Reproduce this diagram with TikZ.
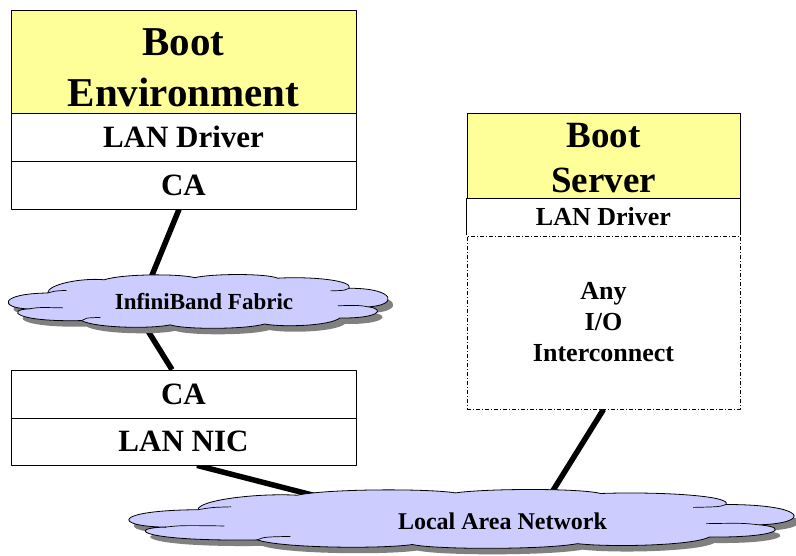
\documentclass[tikz,border=0pt]{standalone}
\usepackage{fontspec}
\setmainfont{Liberation Serif}
\definecolor{bootyellow}{HTML}{FFFF99}
\definecolor{cloudblue}{HTML}{CCCCFF}
\definecolor{shadowgray}{HTML}{808080}
\pgfdeclarelayer{bg}
\pgfsetlayers{bg,main}
\tikzset{
  cloudpath/.style={insert path={(-0.9,-0.28) .. controls (-1.06,-0.25) and (-1.06,0.3) .. (-0.8,0.32)
    .. controls (-0.8,0.65) and (-0.62,0.9) .. (-0.5,0.82)
    .. controls (-0.4,1.05) and (-0.1,1.05) .. (-0.02,0.9)
    .. controls (0.08,1.06) and (0.36,1.06) .. (0.42,0.88)
    .. controls (0.6,0.95) and (0.82,0.8) .. (0.8,0.5)
    .. controls (1.05,0.5) and (1.06,-0.15) .. (0.9,-0.2)
    .. controls (1.0,-0.3) and (0.95,-0.65) .. (0.75,-0.62)
    .. controls (0.7,-0.92) and (0.45,-0.98) .. (0.35,-0.85)
    .. controls (0.25,-1.06) and (-0.08,-1.06) .. (-0.15,-0.88)
    .. controls (-0.25,-1.04) and (-0.55,-1.0) .. (-0.62,-0.72)
    .. controls (-0.98,-0.78) and (-1.02,-0.3) .. cycle}},
  cloudinner/.style={insert path={(-0.9,-0.28) .. controls (-0.85,-0.22) .. (-0.72,-0.24)
    (0.9,-0.2) .. controls (0.85,-0.14) .. (0.74,-0.16)
    (-0.62,-0.72) .. controls (-0.6,-0.62) .. (-0.52,-0.6)
    (0.8,0.5) .. controls (0.78,0.42) .. (0.7,0.4)
    (-0.8,0.32) .. controls (-0.76,0.4) .. (-0.7,0.42)}},
  box/.style={draw=black, line width=0.8pt, fill=white, minimum width=345pt,
    minimum height=48pt, inner sep=0pt, align=center,
    font=\bfseries\fontsize{31}{36}\selectfont},
  titlebox/.style={box, fill=bootyellow, font=\bfseries\fontsize{42}{50}\selectfont},
  titletext/.style={inner sep=0pt, align=center},
  dashdotline/.style={line width=0.8pt, dash pattern=on 4pt off 2pt on 1pt off 2pt},
  link/.style={line width=5.5pt},
  cloudtext/.style={inner sep=0pt}
}
\newcommand{\drawcloud}[4]{%
  \begin{scope}[shift={(#1+5,#2+6)}, xscale=#3, yscale=-#4]
    \fill[shadowgray][cloudpath];
  \end{scope}
  \begin{scope}[shift={(#1,#2)}, xscale=#3, yscale=-#4]
    \filldraw[fill=cloudblue, draw=black, line width=0.8pt][cloudpath];
    \draw[line width=0.7pt][cloudinner];
  \end{scope}}
\begin{document}
\begin{tikzpicture}[x=1pt, y=-1pt, line join=round]
\useasboundingbox (0,0) rectangle (796,556);
% left stack
\node[titlebox, minimum height=103pt] (bootenv) at (183.5,61.5) {};
\node[titletext, font=\bfseries\fontsize{41}{51}\selectfont] (bootenvtext)
  at ([yshift=-6pt]bootenv.center) {Boot\\Environment};
\node[box] (lanL) at (183.5,137) {LAN Driver};
\node[box] (caT) at (183.5,185) {CA};
\node[box] (caB) at (183.5,394) {CA};
\node[box, minimum height=47pt] (nic) at (183.5,441.5) {LAN NIC};
% right stack
\node[titlebox, minimum width=273pt, minimum height=86pt] (bootsrv) at (603.5,156) {};
\node[titletext, font=\bfseries\fontsize{37}{45}\selectfont] (bootsrvtext)
  at ([yshift=-2pt]bootsrv.center) {Boot\\Server};
\node[box, draw=none, minimum width=273pt, minimum height=36pt,
      font=\bfseries\fontsize{26}{31}\selectfont] (lanR) at (603.5,217) {LAN Driver};
\draw[line width=0.8pt] (lanR.south west) -- (lanR.north west) -- (lanR.north east) -- (lanR.south east);
\node[box, dashdotline, minimum width=273pt, minimum height=173pt,
      font=\bfseries\fontsize{26}{31}\selectfont] (anyio) at (603.5,322.5) {Any\\I/O\\Interconnect};
% clouds
\drawcloud{198.5}{301.5}{188.5}{26.5}
\drawcloud{462}{519}{330}{29}
\node[cloudtext, font=\bfseries\fontsize{23}{27}\selectfont] (ib) at (204,302) {InfiniBand Fabric};
\node[cloudtext, font=\bfseries\fontsize{24}{28}\selectfont] (lan) at (502.5,521) {Local Area Network};
% connectors
\begin{pgfonlayer}{bg}
\draw[link] ([xshift=-4.5pt]caT.south) -- ([xshift=-63pt]ib.center);
\draw[link] ([xshift=-74pt]ib.center) -- ([xshift=-11.5pt]caB.north);
\draw[link] ([xshift=13.5pt]nic.south) -- ([xshift=-89pt]lan.center);
\draw[link] (anyio.south) -- ([xshift=31.5pt]lan.center);
\end{pgfonlayer}
\end{tikzpicture}
\end{document}
